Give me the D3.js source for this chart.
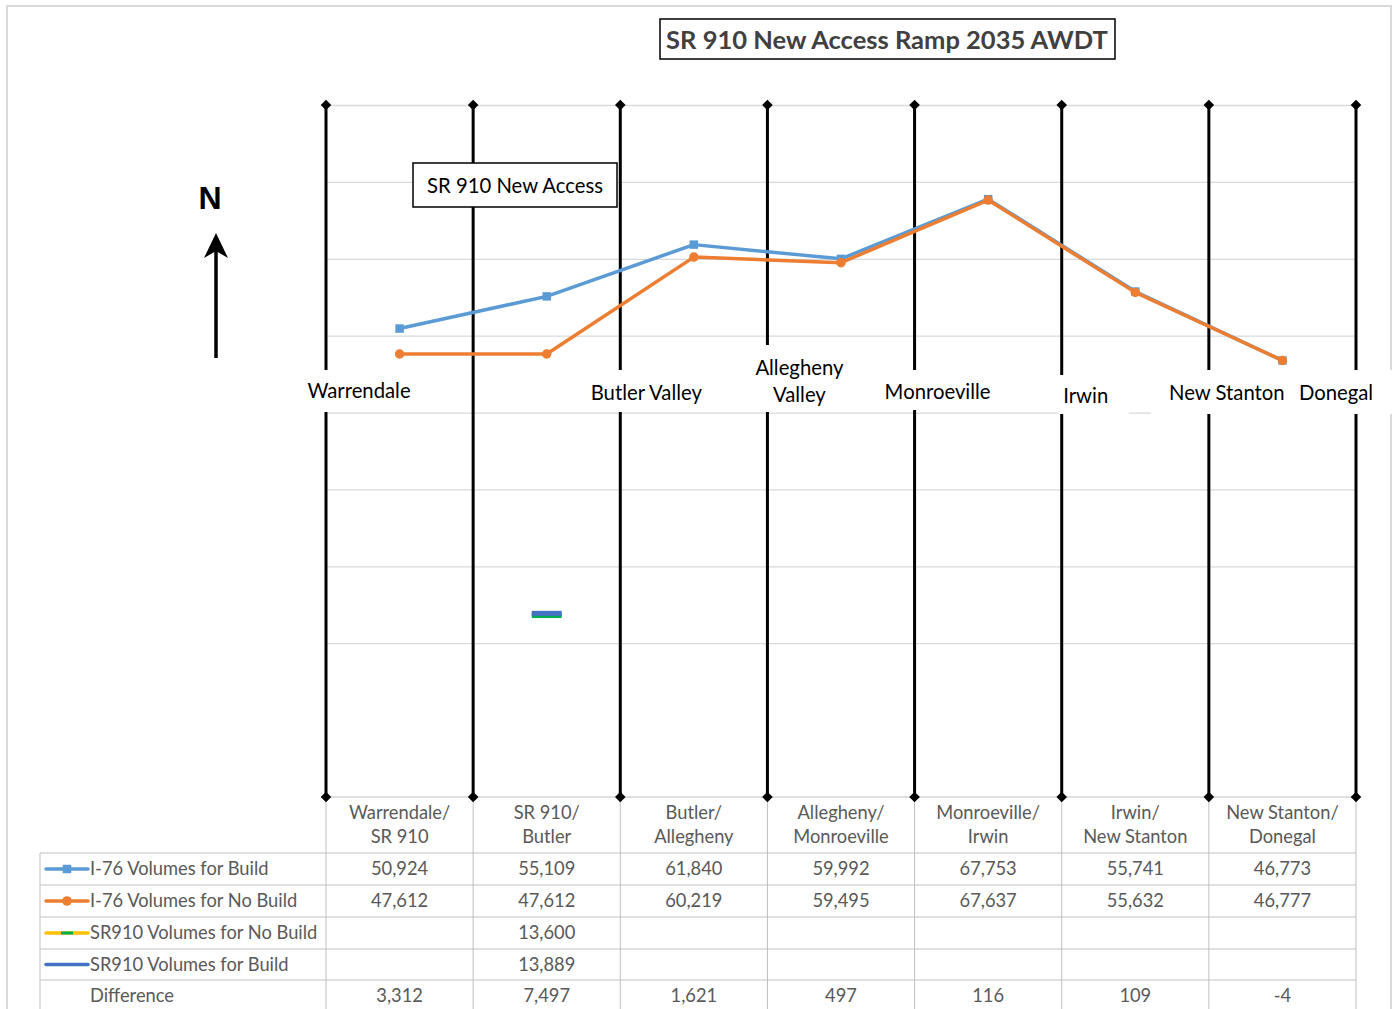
<!DOCTYPE html>
<html><head><meta charset="utf-8">
<script src="https://cdn.jsdelivr.net/npm/d3@7"></script>
<style>body{margin:0;background:#fff;} svg{display:block;font-family:Lato,"Open Sans",sans-serif;}</style>
</head><body><svg id="c" width="1394" height="1009"></svg>
<script>
// ---------- data ----------
const categories = ["Warrendale/\nSR 910","SR 910/\nButler","Butler/\nAllegheny","Allegheny/\nMonroeville","Monroeville/\nIrwin","Irwin/\nNew Stanton","New Stanton/\nDonegal"];
const interchanges = ["Warrendale","SR 910 New Access","Butler Valley","Allegheny\nValley","Monroeville","Irwin","New Stanton","Donegal"];
const buildVolumes   = [50924,55109,61840,59992,67753,55741,46773];
const noBuildVolumes = [47612,47612,60219,59495,67637,55632,46777];
const sr910NoBuild   = [null,13600,null,null,null,null,null];
const sr910Build     = [null,13889,null,null,null,null,null];
const difference     = [3312,7497,1621,497,116,109,-4];
const yTicks = [10000,20000,30000,40000,50000,60000,70000,80000];
const seriesNames = ["I-76 Volumes for Build","I-76 Volumes for No Build","SR910 Volumes for No Build","SR910 Volumes for Build","Difference"];
const title = "SR 910 New Access Ramp 2035 AWDT";

// ---------- layout ----------
const W = 1394, H = 1009;
const plotL = 326, plotR = 1356, plotT = 105, plotB = 797;
const colors = {build:"#5B9BD5", noBuild:"#ED7D31", srNo:"#FFC000", srNoMarker:"#00B050", srBuild:"#4472C4", grid:"#d9d9d9", table:"#bfbfbf", text:"#595959"};
const labelLayout = [
  {dx:33, y:391, box:[-26,117,370,412]},
  null,
  {dx:26, y:393, box:[-47,107,370,412]},
  {dx:32, y:368, box:[-32,97,345,412]},
  {dx:23, y:392, box:[-50,104,370,410]},
  {dx:24, y:396, box:[-3,67,375,414]},
  {dx:18, y:393, box:[-58,82,370,414]},
  {dx:-20, y:393, box:[-66,36,370,414]}
];
const tableFont = 18.3, labelFont = 20.3;

const fmt = d3.formatLocale({decimal:".",thousands:",",grouping:[3],currency:["",""],minus:"-"}).format(",");

const svg = d3.select("#c");
const x = d3.scaleBand().domain(categories).range([plotL, plotR]).padding(0);
const xb = d3.scaleLinear().domain([0, categories.length]).range([plotL, plotR]);
const y = d3.scaleLinear().domain([-10000, 80000]).range([plotB, plotT]);
const cx = d => x(d) + x.bandwidth()/2;

// outer frame
svg.append("rect").attr("x",7).attr("y",6).attr("width",1384).attr("height",1010)
  .attr("fill","#fff").attr("stroke","#d9d9d9").attr("stroke-width",2);

// gridlines via axis
const gAxis = svg.append("g").attr("transform",`translate(${plotL},0)`)
  .call(d3.axisLeft(y).tickValues(yTicks).tickSize(-(plotR-plotL)).tickFormat(""));
gAxis.select(".domain").remove();
gAxis.selectAll(".tick line").attr("stroke",colors.grid).attr("stroke-width",1.3);

// ---------- table ----------
const rowTops = [853,885,917,949,980,1012];
const tbl = svg.append("g");
tbl.append("line").attr("x1",plotL).attr("x2",plotR).attr("y1",plotB).attr("y2",plotB).attr("stroke",colors.table);
rowTops.slice(0,5).forEach(t=>{
  tbl.append("line").attr("x1",40).attr("x2",plotR).attr("y1",t).attr("y2",t).attr("stroke",colors.table);
});
tbl.append("line").attr("x1",40).attr("x2",40).attr("y1",853).attr("y2",H).attr("stroke",colors.table);
d3.range(categories.length+1).forEach(i=>{
  tbl.append("line").attr("x1",xb(i)).attr("x2",xb(i)).attr("y1",plotB).attr("y2",H).attr("stroke",colors.table);
});
categories.forEach(c=>{
  const parts = c.split("\n");
  const t = tbl.append("text").attr("text-anchor","middle").attr("fill",colors.text).attr("font-size",tableFont);
  parts.forEach((p,i)=>t.append("tspan").attr("x",cx(c)).attr("y",813+i*24).attr("dy","0.35em").text(p));
});
const rows = [buildVolumes, noBuildVolumes, sr910NoBuild, sr910Build, difference];
rows.forEach((vals,r)=>{
  const ym = (rowTops[r]+rowTops[r+1])/2;
  tbl.append("text").attr("x",90).attr("y",ym).attr("dy","0.35em").attr("fill",colors.text)
    .attr("font-size",tableFont).text(seriesNames[r]);
  vals.forEach((v,i)=>{
    if (v==null) return;
    tbl.append("text").attr("x",cx(categories[i])).attr("y",ym).attr("dy","0.35em")
      .attr("text-anchor","middle").attr("fill",colors.text).attr("font-size",tableFont).text(fmt(v));
  });
});
// legend keys
const keyY = r => (rowTops[r]+rowTops[r+1])/2;
const lg = svg.append("g");
lg.append("line").attr("x1",46).attr("x2",88).attr("y1",keyY(0)).attr("y2",keyY(0)).attr("stroke",colors.build).attr("stroke-width",3.5).attr("stroke-linecap","round");
lg.append("path").attr("d",d3.symbol(d3.symbolSquare,72)()).attr("transform",`translate(67,${keyY(0)})`).attr("fill",colors.build);
lg.append("line").attr("x1",46).attr("x2",88).attr("y1",keyY(1)).attr("y2",keyY(1)).attr("stroke",colors.noBuild).attr("stroke-width",3.5).attr("stroke-linecap","round");
lg.append("path").attr("d",d3.symbol(d3.symbolCircle,72)()).attr("transform",`translate(67,${keyY(1)})`).attr("fill",colors.noBuild);
lg.append("line").attr("x1",46).attr("x2",88).attr("y1",keyY(2)).attr("y2",keyY(2)).attr("stroke",colors.srNo).attr("stroke-width",3.5).attr("stroke-linecap","round");
lg.append("line").attr("x1",61).attr("x2",73).attr("y1",keyY(2)).attr("y2",keyY(2)).attr("stroke",colors.srNoMarker).attr("stroke-width",3);
lg.append("line").attr("x1",46).attr("x2",88).attr("y1",keyY(3)).attr("y2",keyY(3)).attr("stroke",colors.srBuild).attr("stroke-width",3.5).attr("stroke-linecap","round");

// ---------- interchange boundary lines ----------
const bnd = svg.append("g");
d3.range(interchanges.length).forEach(i=>{
  bnd.append("line").attr("x1",xb(i)).attr("x2",xb(i)).attr("y1",plotT).attr("y2",plotB)
    .attr("stroke","#000").attr("stroke-width",3);
  [plotT,plotB].forEach(yy=>{
    bnd.append("path").attr("d",d3.symbol(d3.symbolSquare,56)())
      .attr("transform",`translate(${xb(i)},${yy}) rotate(45)`).attr("fill","#000");
  });
});

interchanges.forEach((name,i)=>{
  const L = labelLayout[i];
  if (!L) return;
  const bx = xb(i);
  svg.append("rect").attr("x",bx+L.box[0]).attr("width",L.box[1]-L.box[0])
    .attr("y",L.box[2]).attr("height",L.box[3]-L.box[2]).attr("fill","#fff");
  const lines = name.split("\n");
  const t = svg.append("text").attr("text-anchor","middle").attr("fill","#000").attr("font-size",labelFont);
  lines.forEach((p,k)=>t.append("tspan").attr("x",bx+L.dx).attr("y",L.y+k*27).attr("dy","0.35em").text(p));
});

// ---------- series ----------
const lineGen = d3.line().defined(d=>d.v!=null).x(d=>cx(d.c)).y(d=>y(d.v));
function drawSeries(vals, color, sym, size){
  const data = vals.map((v,i)=>({c:categories[i], v}));
  svg.append("path").datum(data).attr("d",lineGen).attr("fill","none")
    .attr("stroke",color).attr("stroke-width",3.5).attr("stroke-linejoin","round");
  svg.append("g").selectAll("path").data(data.filter(d=>d.v!=null)).join("path")
    .attr("d",d3.symbol(sym,size)()).attr("transform",d=>`translate(${cx(d.c)},${y(d.v)})`).attr("fill",color);
}
drawSeries(buildVolumes, colors.build, d3.symbolSquare, 72);
drawSeries(noBuildVolumes, colors.noBuild, d3.symbolCircle, 70);

const dashW = 30;
sr910NoBuild.forEach((v,i)=>{ if(v==null) return;
  svg.append("rect").attr("x",cx(categories[i])-dashW/2).attr("y",y(v)-2.5).attr("width",dashW).attr("height",5).attr("fill",colors.srNoMarker);
});
sr910Build.forEach((v,i)=>{ if(v==null) return;
  svg.append("rect").attr("x",cx(categories[i])-dashW/2).attr("y",y(v)-2.5).attr("width",dashW).attr("height",5).attr("fill",colors.srBuild);
});

// SR 910 New Access label box
svg.append("rect").attr("x",413).attr("y",163).attr("width",204).attr("height",44)
  .attr("fill","#fff").attr("stroke","#000").attr("stroke-width",1.5);
svg.append("text").attr("x",515).attr("y",186).attr("dy","0.35em").attr("text-anchor","middle")
  .attr("font-size",labelFont).attr("fill","#000").text(interchanges[1]);

// title
svg.append("rect").attr("x",660).attr("y",19).attr("width",455).attr("height",40)
  .attr("fill","#fff").attr("stroke","#000").attr("stroke-width",1.5);
svg.append("text").attr("x",887).attr("y",40).attr("dy","0.35em").attr("text-anchor","middle")
  .attr("font-size",25.5).attr("font-weight","bold").attr("fill","#404040").text(title);

// north arrow
svg.append("text").attr("x",210).attr("y",198).attr("dy","0.35em").attr("text-anchor","middle")
  .attr("font-family","Liberation Sans, Arial, sans-serif").attr("font-weight","bold").attr("font-size",32).text("N");
svg.append("line").attr("x1",216).attr("x2",216).attr("y1",358).attr("y2",245).attr("stroke","#000").attr("stroke-width",3.5);
svg.append("path").attr("d","M216,233 L228,258 L216,251 L204,258 Z").attr("fill","#000");
</script></body></html>
